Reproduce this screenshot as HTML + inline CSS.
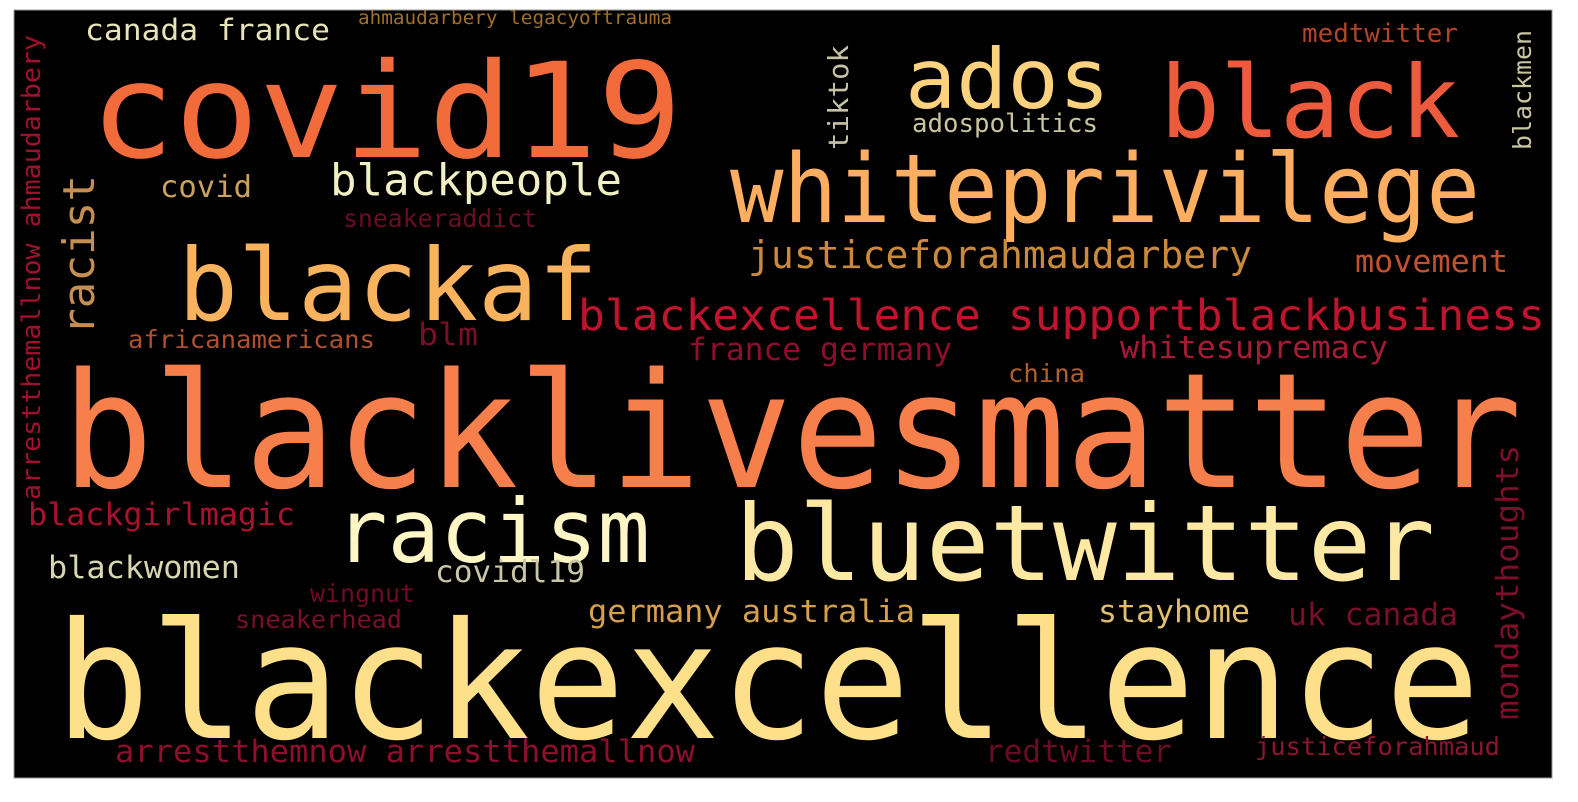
<!DOCTYPE html>
<html><head><meta charset="utf-8"><style>
html,body{margin:0;padding:0;background:#fff;}
svg{display:block;}
text{font-family:"DejaVu Sans Mono","Liberation Mono",monospace;}
</style></head><body>
<svg width="1578" height="802" viewBox="0 0 1578 802">
<rect x="14" y="10" width="1538" height="768" fill="#000" stroke="#999" stroke-width="1"/>
<g lengthAdjust="spacingAndGlyphs">
<text x="90" y="157" font-size="132" fill="#f26b3a" textLength="592" lengthAdjust="spacingAndGlyphs">covid19</text>
<text x="62" y="487" font-size="160" fill="#f67f4b" textLength="1460" lengthAdjust="spacingAndGlyphs">blacklivesmatter</text>
<text x="55" y="738" font-size="162" fill="#fee08b" textLength="1425" lengthAdjust="spacingAndGlyphs">blackexcellence</text>
<text x="730" y="222" font-size="95" fill="#fdae61" textLength="750" lengthAdjust="spacingAndGlyphs">whiteprivilege</text>
<text x="1160" y="137" font-size="100" fill="#ee5a3c" textLength="300" lengthAdjust="spacingAndGlyphs">black</text>
<text x="905" y="108" font-size="83" fill="#fdd27e" textLength="205" lengthAdjust="spacingAndGlyphs">ados</text>
<text x="178" y="320" font-size="100" fill="#f9b35f" textLength="420" lengthAdjust="spacingAndGlyphs">blackaf</text>
<text x="735" y="580" font-size="105" fill="#fde9a3" textLength="700" lengthAdjust="spacingAndGlyphs">bluetwitter</text>
<text x="335" y="562" font-size="88" fill="#fef7c5" textLength="315" lengthAdjust="spacingAndGlyphs">racism</text>
<text x="578" y="330" font-size="43" fill="#c0142e" textLength="967" lengthAdjust="spacingAndGlyphs">blackexcellence supportblackbusiness</text>
<text x="748" y="268" font-size="38" fill="#c98a3c" textLength="504" lengthAdjust="spacingAndGlyphs">justiceforahmaudarbery</text>
<text x="330" y="195" font-size="44" fill="#f1efc4" textLength="292" lengthAdjust="spacingAndGlyphs">blackpeople</text>
<text x="85" y="40" font-size="29" fill="#e6e3b6" textLength="245" lengthAdjust="spacingAndGlyphs">canada france</text>
<text x="358" y="24" font-size="19" fill="#a0702a" textLength="314" lengthAdjust="spacingAndGlyphs">ahmaudarbery legacyoftrauma</text>
<text x="1302" y="42" font-size="26" fill="#b0442a" textLength="156" lengthAdjust="spacingAndGlyphs">medtwitter</text>
<text x="912" y="132" font-size="26" fill="#c8c49e" textLength="186" lengthAdjust="spacingAndGlyphs">adospolitics</text>
<text x="160" y="197" font-size="30" fill="#caa25b" textLength="92" lengthAdjust="spacingAndGlyphs">covid</text>
<text x="343" y="227" font-size="25" fill="#6a0d25" textLength="194" lengthAdjust="spacingAndGlyphs">sneakeraddict</text>
<text x="128" y="348" font-size="25" fill="#b0512e" textLength="247" lengthAdjust="spacingAndGlyphs">africanamericans</text>
<text x="418" y="345" font-size="31" fill="#7a0f2a" textLength="60" lengthAdjust="spacingAndGlyphs">blm</text>
<text x="688" y="360" font-size="31" fill="#8e0e2d" textLength="264" lengthAdjust="spacingAndGlyphs">france germany</text>
<text x="1120" y="358" font-size="31" fill="#a51b36" textLength="268" lengthAdjust="spacingAndGlyphs">whitesupremacy</text>
<text x="1355" y="272" font-size="31" fill="#c2522f" textLength="153" lengthAdjust="spacingAndGlyphs">movement</text>
<text x="1008" y="382" font-size="25" fill="#b0602b" textLength="77" lengthAdjust="spacingAndGlyphs">china</text>
<text x="28" y="525" font-size="31" fill="#a8122f" textLength="267" lengthAdjust="spacingAndGlyphs">blackgirlmagic</text>
<text x="48" y="578" font-size="31" fill="#d8d6b0" textLength="192" lengthAdjust="spacingAndGlyphs">blackwomen</text>
<text x="435" y="582" font-size="30" fill="#c9c6a8" textLength="150" lengthAdjust="spacingAndGlyphs">covidl19</text>
<text x="310" y="602" font-size="25" fill="#6e0c26" textLength="105" lengthAdjust="spacingAndGlyphs">wingnut</text>
<text x="235" y="628" font-size="25" fill="#7a0f2a" textLength="167" lengthAdjust="spacingAndGlyphs">sneakerhead</text>
<text x="588" y="622" font-size="31" fill="#d4a04e" textLength="327" lengthAdjust="spacingAndGlyphs">germany australia</text>
<text x="1098" y="622" font-size="31" fill="#e1bd6e" textLength="152" lengthAdjust="spacingAndGlyphs">stayhome</text>
<text x="1288" y="625" font-size="31" fill="#7a0f2a" textLength="170" lengthAdjust="spacingAndGlyphs">uk canada</text>
<text x="115" y="762" font-size="31" fill="#8c0f2c" textLength="580" lengthAdjust="spacingAndGlyphs">arrestthemnow arrestthemallnow</text>
<text x="985" y="762" font-size="31" fill="#6a0c26" textLength="187" lengthAdjust="spacingAndGlyphs">redtwitter</text>
<text x="1255" y="755" font-size="25" fill="#8c1530" textLength="245" lengthAdjust="spacingAndGlyphs">justiceforahmaud</text>
<!-- vertical words -->
<text transform="translate(848,150) rotate(-90)" x="0" y="0" font-size="28" fill="#c5c2a6" textLength="105" lengthAdjust="spacingAndGlyphs">tiktok</text>
<text transform="translate(1531,150) rotate(-90)" x="0" y="0" font-size="25" fill="#c9c5a0" textLength="120" lengthAdjust="spacingAndGlyphs">blackmen</text>
<text transform="translate(94,335) rotate(-90)" x="0" y="0" font-size="44" fill="#c58e52" textLength="160" lengthAdjust="spacingAndGlyphs">racist</text>
<text transform="translate(40,500) rotate(-90)" x="0" y="0" font-size="26" fill="#a3102e" textLength="465" lengthAdjust="spacingAndGlyphs">arrestthemallnow ahmaudarbery</text>
<text transform="translate(1518,720) rotate(-90)" x="0" y="0" font-size="31" fill="#7c0f2a" textLength="275" lengthAdjust="spacingAndGlyphs">mondaythoughts</text>
</g>
</svg>
</body></html>
